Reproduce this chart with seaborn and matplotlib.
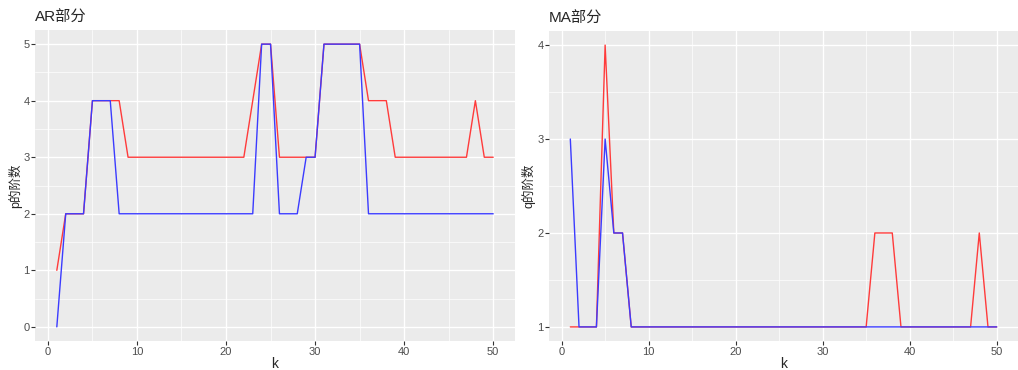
import matplotlib
matplotlib.use('Agg')
import matplotlib.pyplot as plt
import numpy as np
import pandas as pd
import seaborn as sns
from matplotlib.ticker import MultipleLocator

# k from 1 to 50
k = list(range(1, 51))

# AR part: order p (red and blue series)
ar_red = [1, 2, 2, 2, 4, 4, 4, 4, 3, 3,
          3, 3, 3, 3, 3, 3, 3, 3, 3, 3,
          3, 3, 4, 5, 5, 3, 3, 3, 3, 3,
          5, 5, 5, 5, 5, 4, 4, 4, 3, 3,
          3, 3, 3, 3, 3, 3, 3, 4, 3, 3]
ar_blue = [0, 2, 2, 2, 4, 4, 4, 2, 2, 2,
           2, 2, 2, 2, 2, 2, 2, 2, 2, 2,
           2, 2, 2, 5, 5, 2, 2, 2, 3, 3,
           5, 5, 5, 5, 5, 2, 2, 2, 2, 2,
           2, 2, 2, 2, 2, 2, 2, 2, 2, 2]

# MA part: order q
ma_red = [1, 1, 1, 1, 4, 2, 2, 1, 1, 1,
          1, 1, 1, 1, 1, 1, 1, 1, 1, 1,
          1, 1, 1, 1, 1, 1, 1, 1, 1, 1,
          1, 1, 1, 1, 1, 2, 2, 2, 1, 1,
          1, 1, 1, 1, 1, 1, 1, 2, 1, 1]
ma_blue = [3, 1, 1, 1, 3, 2, 2, 1, 1, 1,
           1, 1, 1, 1, 1, 1, 1, 1, 1, 1,
           1, 1, 1, 1, 1, 1, 1, 1, 1, 1,
           1, 1, 1, 1, 1, 1, 1, 1, 1, 1,
           1, 1, 1, 1, 1, 1, 1, 1, 1, 1]

sns.set_style('darkgrid', {'axes.facecolor': '#EBEBEB', 'grid.color': 'white'})
plt.rcParams['font.family'] = ['Liberation Sans', 'Noto Sans CJK SC']

fig = plt.figure(figsize=(10.18, 3.7), dpi=100)
ax1 = fig.add_axes([35 / 1018, 29 / 370, 480 / 1018, 311 / 370])
ax2 = fig.add_axes([549 / 1018, 29 / 370, 469 / 1018, 310 / 370])


def draw_panel(ax, red, blue, title, ylabel, ylim):
    df = pd.DataFrame({'k': k, 'red': red, 'blue': blue})
    sns.lineplot(data=df, x='k', y='red', color='#FF3B3B', lw=1.0, ax=ax)
    sns.lineplot(data=df, x='k', y='blue', color='#3B3BFF', lw=1.0, ax=ax)
    ax.set_xlim(-1.45, 52.45)
    ax.set_ylim(*ylim)
    ax.xaxis.set_major_locator(MultipleLocator(10))
    ax.xaxis.set_minor_locator(MultipleLocator(5))
    ax.yaxis.set_major_locator(MultipleLocator(1))
    ax.yaxis.set_minor_locator(MultipleLocator(0.5))
    ax.grid(which='major', color='white', lw=1.0)
    ax.grid(which='minor', color='white', lw=0.5)
    for s in ax.spines.values():
        s.set_visible(False)
    ax.tick_params(which='major', length=3, width=0.8, color='#333333',
                   labelsize=8, labelcolor='#4D4D4D', pad=1, left=True, bottom=True)
    ax.tick_params(which='minor', length=0)
    ax.set_xlabel('k', fontsize=10, labelpad=0)
    ax.set_ylabel(ylabel, fontsize=9, labelpad=1)
    ax.set_title(title, loc='left', fontsize=11, pad=6)


draw_panel(ax1, ar_red, ar_blue, 'AR部分', 'p的阶数', (-0.25, 5.25))
draw_panel(ax2, ma_red, ma_blue, 'MA部分', 'q的阶数', (0.85, 4.15))

fig.savefig('out.png', dpi=100)
